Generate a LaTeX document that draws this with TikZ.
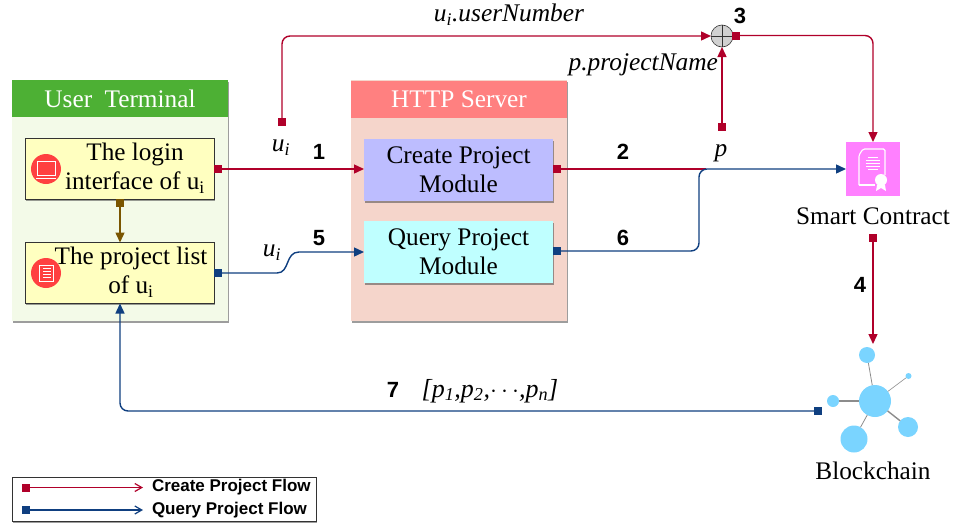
\documentclass[tikz,border=0pt]{standalone}
\usepackage{fontspec}
\setmainfont{Liberation Serif}
\newfontfamily\numfont{Liberation Sans}
\usetikzlibrary{arrows.meta,shadows,calc}
\definecolor{cred}{HTML}{B0002A}
\definecolor{cblue}{HTML}{0F3F80}
\definecolor{cbrown}{HTML}{7A5500}
\definecolor{nodeblue}{HTML}{7AD4FF}
\definecolor{termgreen}{HTML}{4DB034}
\definecolor{termbg}{HTML}{F3FAE8}
\definecolor{httphd}{HTML}{FF8080}
\definecolor{httpbg}{HTML}{F5D5CB}
\definecolor{boxyellow}{HTML}{FFFFC0}
\definecolor{boxlav}{HTML}{BDBDFF}
\definecolor{boxcyan}{HTML}{BFFFFF}
\definecolor{contractpink}{HTML}{FF80FF}
\definecolor{iconred}{HTML}{FF4040}
\tikzset{
  every node/.style={inner sep=0pt,outer sep=0pt},
  softshadow/.style={drop shadow={shadow xshift=0.6pt,shadow yshift=-1.8pt,opacity=.55,fill=black!70}},
  panelbody/.style={minimum width=216pt,minimum height=241pt,softshadow},
  panelhead/.style={minimum width=216pt,minimum height=37pt,text=white,font=\fontsize{25.3}{27}\selectfont},
  yellowbox/.style={draw=black!80,line width=.7pt,fill=boxyellow,minimum width=189pt,minimum height=61pt,softshadow},
  modulebox/.style={minimum width=189pt,minimum height=62pt,align=center,font=\fontsize{25.3}{29}\selectfont,softshadow},
  boxtext/.style={align=center,font=\fontsize{25.2}{29}\selectfont},
  marker/.style={minimum size=8pt,fill=#1},
  redflow/.style={draw=cred,line width=1.4pt,rounded corners=8pt},
  blueflow/.style={draw=cblue,line width=1.4pt,rounded corners=8pt},
  redtip/.style={-{Triangle[length=10pt,width=9pt]}},
  opentip/.style={-{Straight Barb[length=7pt,width=8pt]}},
  lab/.style={font=\fontsize{25.4}{27}\selectfont\itshape},
  num/.style={font=\fontsize{22}{24}\selectfont\bfseries\numfont},
  plain/.style={font=\fontsize{25.3}{27}\selectfont},
  legendtext/.style={anchor=west,font=\fontsize{17}{19}\selectfont\bfseries\numfont},
  iconcircle/.style={circle,fill=iconred,minimum size=30pt},
  chain/.style={circle,fill=nodeblue},
  spoke/.style={draw=black!45}
}
\begin{document}
\begin{tikzpicture}[x=1pt,y=-1pt]
\useasboundingbox (0,0) rectangle (954,525);
% panels
\node[panelbody,fill=termbg] (termbody) at (120,200.5) {};
\node[panelhead,fill=termgreen] (termhead) at (120,98.5) {User\hspace{6pt} Terminal};
\node[panelbody,fill=httpbg] (httpbody) at (459,200.5) {};
\node[panelhead,fill=httphd] (httphead) at (459,99) {HTTP Server};
% boxes
\node[yellowbox] (login) at (119.5,168.5) {};
\node[yellowbox] (list) at (119.5,273) {};
\node[boxtext] (logintext) at (135,168) {The login\\interface of u\textsubscript{i}};
\node[boxtext] (listtext) at (131,272) {The project list\\of u\textsubscript{i}};
\node[modulebox,fill=boxlav] (create) at (458.5,170) {Create Project\\Module};
\node[modulebox,fill=boxcyan] (query) at (458.5,252) {Query Project\\Module};
% icons
\node[iconcircle] (iconA) at (46,169) {};
\draw[white,line width=.8pt] (37,161) rectangle (55,175);
\draw[white,line width=1pt] (36,178) -- (56,178);
\node[iconcircle] (iconB) at (46,273) {};
\draw[white,line width=.7pt] (39,265) rectangle (53,281);
\foreach \yy in {268,271,274,277}{\draw[white,line width=.8pt] (43,\yy) -- (51,\yy);}
% smart contract
\node[minimum size=54pt,fill=contractpink] (contract) at (873,169) {};
\draw[white,line width=1.1pt,rounded corners=1.5pt] (859,185) -- (859,155) -- (863,149) -- (885,149) -- (885,175);
\foreach \yy/\xa/\xb in {157/868/878,160/866/880,163/866/880,166/866/880,169/868/878}{\draw[white,line width=.9pt] (\xa,\yy) -- (\xb,\yy);}
\draw[white,line width=1.1pt] (859,185) -- (875,185);
\fill[white] (881,180) circle (6pt);
\fill[white] (877,185) -- (876,191) -- (881,188) -- (886,191) -- (885,185) -- cycle;
\node[plain] (contractlabel) at (873,216) {Smart Contract};
% blockchain
\node[chain,minimum size=32pt] (hub) at (875,401) {};
\node[chain,minimum size=16pt] (ca) at (867,355) {};
\node[chain,minimum size=6pt] (cb) at (908.5,376) {};
\node[chain,minimum size=12pt] (cc) at (833,401) {};
\node[chain,minimum size=27pt] (cd) at (854,439) {};
\node[chain,minimum size=20pt] (ce) at (908,427) {};
\draw[spoke,line width=.8pt] (ca) -- (hub);
\draw[spoke,line width=.6pt] (cb) -- (hub);
\draw[spoke,line width=1.6pt] (cc) -- (hub);
\draw[spoke,line width=.8pt] (cd) -- (hub);
\draw[spoke,line width=1.4pt] (ce) -- (hub);
\node[plain] (chainlabel) at (873,471) {Blockchain};
% oplus
\node[circle,draw=black!80,line width=.6pt,fill=black!18,minimum size=22pt,
  path picture={\draw[black!80,line width=.6pt] (path picture bounding box.north) -- (path picture bounding box.south) (path picture bounding box.west) -- (path picture bounding box.east);}] (oplus) at (722,36) {};
% markers
\node[marker=cred] (m1) at (217.5,169) {};
\node[marker=cbrown] (m2) at (120,203) {};
\node[marker=cblue] (m3) at (217.5,273) {};
\node[marker=cred] (m4) at (557,169) {};
\node[marker=cblue] (m5) at (557,251) {};
\node[marker=cred] (m6) at (282,122) {};
\node[marker=cred] (m7) at (722,127) {};
\node[marker=cred] (m8) at (736,35.5) {};
\node[marker=cred] (m9) at (873,238) {};
\node[marker=cblue] (m10) at (818,411) {};
\coordinate (topleft) at (282,36);
\coordinate (topright) at (873,35.5);
\coordinate (bendA) at (699,251);
\coordinate (bendB) at (699,169);
\coordinate (botleft) at (120,411);
\coordinate (redstop) at (706,169);
\coordinate (chaintop) at (873,344);
% red flow
\draw[redflow,redtip] (m1.center) -- (m1.center -| create.west);
\draw[redflow] (m4.center) -- (redstop);
\draw[redflow,redtip] (m6.center) -- (topleft) -- (oplus.west);
\draw[redflow,redtip] (m7.center) -- (oplus.south);
\draw[redflow,redtip] (m8.center) -- (topright) -- (contract.north);
\draw[redflow,redtip] (m9.center) -- (chaintop);
\draw[draw=cbrown,line width=1.4pt,redtip] (m2.center) -- (list.north -| m2);
% blue flow
\draw[blueflow,redtip] (m5.center) -- (bendA) -- (bendB) -- (bendB -| contract.west);
\draw[draw=cblue,line width=1.4pt,redtip] (m3.center) -- (277,273) .. controls (290,273) and (285,252) .. (299,252) -- (query.west);
\draw[blueflow,redtip] (m10.center) -- (botleft) -- (list.south -| botleft);
% labels
\node[lab] (la) at (509,15) {u\textsubscript{i}.userNumber};
\node[lab,anchor=east] (lb) at (718,65) {p.projectName};
\node[lab] (lc) at (281,148) {u\textsubscript{i}};
\node[lab] (ld) at (721,153) {p};
\node[lab] (le) at (272,253) {u\textsubscript{i}};
\node[lab,font=\fontsize{26}{28}\selectfont\itshape] (lf) at (490,391) {[p\textsubscript{1},p\textsubscript{2},$\cdots$,p\textsubscript{n}]};
\node[num] (n1) at (319,152) {1};
\node[num] (n2) at (623,152) {2};
\node[num] (n3) at (740,16) {3};
\node[num] (n4) at (860,285) {4};
\node[num] (n5) at (319,238) {5};
\node[num] (n6) at (623,238) {6};
\node[num] (n7) at (393,390) {7};
% legend
\node[draw=black!80,line width=.8pt,fill=white,minimum width=304pt,minimum height=44pt,softshadow] (legend) at (164,499.5) {};
\node[marker=cred] (lm1) at (26,487.5) {};
\node[marker=cblue] (lm2) at (26,510) {};
\coordinate (le1) at (143,487.5);
\coordinate (le2) at (143,510);
\draw[draw=cred,line width=1.2pt,opentip] (lm1.center) -- (le1);
\draw[draw=cblue,line width=1.2pt,opentip] (lm2.center) -- (le2);
\node[legendtext] (lt1) at (152,487) {Create Project Flow};
\node[legendtext] (lt2) at (152,510) {Query Project Flow};
\end{tikzpicture}
\end{document}
